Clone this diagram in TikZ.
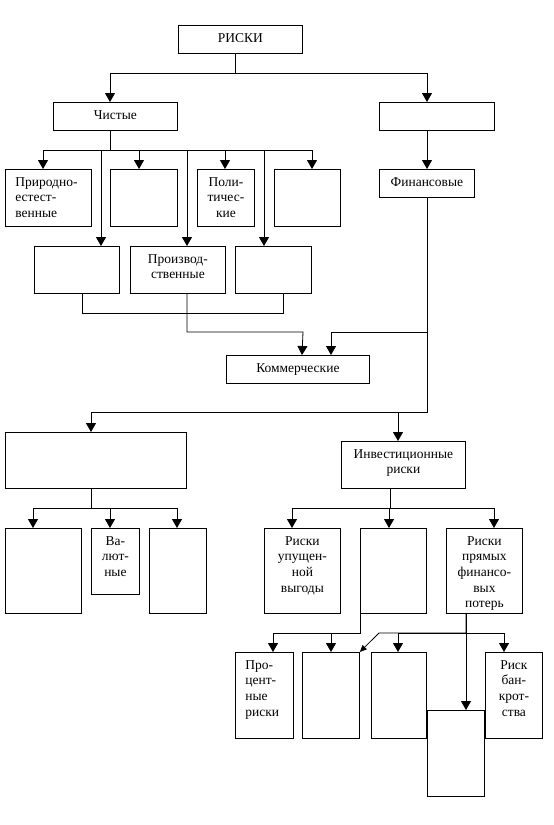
\documentclass[tikz,border=0pt]{standalone}
\usepackage{fontspec}
\setmainfont{Liberation Serif}
\usetikzlibrary{arrows.meta}
\newcommand{\rbox}[5]{\node[box, minimum width=#4pt, minimum height=#5pt] (#1) at (#2,#3) {};}
\begin{document}
\begin{tikzpicture}[x=1pt,y=-1pt, line width=0.8pt,
  box/.style={draw, line width=0.8pt, inner sep=0pt, anchor=north west},
  lbl/.style={inner sep=0pt, anchor=north, align=center, font=\fontsize{13.5}{15.6}\selectfont},
  lbll/.style={lbl, anchor=north west, align=left},
  tip/.style={-{Triangle[width=10pt,length=9pt]}},
  smalltip/.style={-{Triangle[width=6pt,length=7pt]}}]
\useasboundingbox (0,0) rectangle (554,825);
% boxes
\rbox{r}{178}{25}{124}{28}
\rbox{ch}{53}{102}{124}{28}
\rbox{fr}{379}{102}{115}{28}
\rbox{fin}{379}{169}{95}{28}
\rbox{a1}{5}{169}{86}{57}
\rbox{a2}{110}{169}{67}{57}
\rbox{a3}{197}{169}{57}{57}
\rbox{a4}{274}{169}{66}{57}
\rbox{b1}{34}{246}{85}{47}
\rbox{b2}{130}{246}{95}{47}
\rbox{b3}{235}{246}{76}{47}
\rbox{kom}{226}{355}{143}{28}
\rbox{L}{5}{432}{181}{56}
\rbox{inv}{341}{441}{124}{47}
\rbox{c1}{5}{528}{76}{85}
\rbox{c2}{91}{528}{48}{66}
\rbox{c3}{149}{528}{57}{85}
\rbox{d1}{264}{528}{76}{85}
\rbox{d2}{360}{528}{66}{85}
\rbox{d3}{446}{528}{76}{85}
\rbox{e1}{235}{652}{58}{86}
\rbox{e2}{302}{652}{57}{86}
\rbox{e3}{371}{652}{55}{86}
\rbox{e4}{427}{710}{57}{86}
\rbox{e5}{485}{652}{57}{86}
% labels
\node[lbl] (r-t) at ([yshift=-8pt]r.north) {РИСКИ};
\node[lbl] (ch-t) at ([yshift=-8pt]ch.north) {Чистые};
\node[lbl] (fin-t) at ([yshift=-8pt]fin.north) {Финансовые};
\node[lbll] (a1-t) at ([xshift=10pt,yshift=-8pt]a1.north west) {Природно-\\естест-\\венные};
\node[lbl] (a3-t) at ([yshift=-8pt]a3.north) {Поли-\\тичес-\\кие};
\node[lbl] (b2-t) at ([yshift=-8pt]b2.north) {Производ-\\ственные};
\node[lbl] (kom-t) at ([yshift=-8pt]kom.north) {Коммерческие};
\node[lbl] (inv-t) at ([yshift=-8pt]inv.north) {Инвестиционные\\риски};
\node[lbl] (c2-t) at ([yshift=-8pt]c2.north) {Ва-\\лют-\\ные};
\node[lbl] (d1-t) at ([yshift=-8pt]d1.north) {Риски\\упущен-\\ной\\выгоды};
\node[lbl] (d3-t) at ([yshift=-8pt]d3.north) {Риски\\прямых\\финансо-\\вых\\потерь};
\node[lbll] (e1-t) at ([xshift=10pt,yshift=-8pt]e1.north west) {Про-\\цент-\\ные\\риски};
\node[lbl] (e5-t) at ([yshift=-8pt]e5.north) {Риск\\бан-\\крот-\\ства};
% connectors
\draw[tip] (235,0|-r.south) -- ++(0,20) -| (110,0|-ch.north);
\draw[tip] (235,0|-r.south) -- ++(0,20) -| (427,0|-fr.north);
\draw[tip] (427,0|-fr.south) -- (427,0|-fin.north);
\foreach \t/\x in {a1/43,a2/139,a3/225,a4/312,b1/101,b2/187,b3/264}
  \draw[tip] (110,0|-ch.south) -- ++(0,20) -| (\x,0|-\t.north);
\draw (82,0|-b1.south) -- ++(0,20) -| (283,0|-b3.south);
\draw[tip] (187,0|-b2.south) |- (303,332) -- (302,0|-kom.north);
\draw[tip] (427,0|-fin.south) |- (331,332) -- (331,0|-kom.north);
\draw[tip] (427,0|-fin.south) |- (91,412) -- (91,0|-L.north);
\draw[tip] (427,0|-fin.south) |- (398,412) -- (398,0|-inv.north);
\foreach \t/\x in {c1/33,c2/110,c3/177}
  \draw[tip] (91,0|-L.south) -- ++(0,20) -| (\x,0|-\t.north);
\foreach \t/\x in {d1/292,d2/389,d3/494}
  \draw[tip] (390,0|-inv.south) -- ++(0,20) -| (\x,0|-\t.north);
\foreach \t/\x in {e1/273,e2/331}
  \draw[tip] (d2.south west) -- ++(0,20) -| (\x,0|-\t.north);
\draw[tip] (466,0|-d3.south) -- (466,0|-e4.north);
\draw[tip] (466,0|-d3.south) |- (398,633) -- (398,0|-e3.north);
\draw[tip] (466,0|-d3.south) |- (504,633) -- (504,0|-e5.north);
\draw[smalltip] (466,0|-d3.south) |- (379,633) -- (e2.north east);
\end{tikzpicture}
\end{document}
